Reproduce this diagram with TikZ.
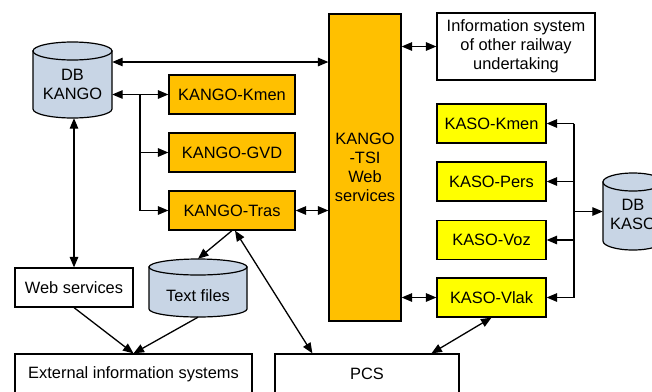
\documentclass[tikz,border=0pt]{standalone}
\usepackage{fontspec}
\setmainfont{Liberation Sans}
\usetikzlibrary{arrows.meta,calc}
\definecolor{kango}{HTML}{FFC000}
\definecolor{kaso}{HTML}{FFFF00}
\definecolor{dbfill}{HTML}{C8D5E5}
\begin{document}
\begin{tikzpicture}[x=1pt,y=-1pt, font=\fontsize{16.4}{19}\selectfont,
  box/.style={draw=black, line width=1.2pt, inner sep=0pt, align=center},
  kangobox/.style={box, fill=kango, minimum width=126pt, minimum height=39pt},
  kasobox/.style={box, fill=kaso, minimum width=109pt, minimum height=39pt},
  cyl/.style={draw=black, line width=1.2pt, fill=dbfill},
  helper/.style={inner sep=0pt},
  tip/.tip={Triangle[length=10.5pt,width=8.5pt]},
  conn/.style={line width=1.3pt, -tip},
  biconn/.style={line width=1.3pt, tip-tip}]
\useasboundingbox (0,0) rectangle (652,391);
\clip (0,0) rectangle (652,391);

% cylinders
\draw[cyl] (33,51) -- (33,109) arc[start angle=180, end angle=0, x radius=39.5, y radius=9] -- (112,51) -- cycle;
\draw[cyl] (72.5,51) ellipse[x radius=39.5, y radius=9];
\node[helper, minimum width=79pt, minimum height=76pt] (dbkango) at (72.5,80) {};
\node[align=center] (dbkangot) at (72.5,84) {DB\\KANGO};

\draw[cyl] (149,267) -- (149,309) arc[start angle=180, end angle=0, x radius=49, y radius=8] -- (247,267) -- cycle;
\draw[cyl] (198,267) ellipse[x radius=49, y radius=8];
\node[helper, minimum width=98pt, minimum height=58pt] (tf) at (198,288) {};
\node (tft) at (198,296) {Text files};

\draw[cyl] (603,182) -- (603,241) arc[start angle=180, end angle=0, x radius=30, y radius=9] -- (663,182) -- cycle;
\draw[cyl] (633,182) ellipse[x radius=30, y radius=9];
\node[helper, minimum width=60pt, minimum height=77pt] (dbkaso) at (633,211.5) {};
\node[align=center] (dbkasot) at (633,214) {DB\\KASO};

% boxes
\node[kangobox] (kmen) at (232,94.5) {KANGO-Kmen};
\node[kangobox] (gvd) at (232,152.5) {KANGO-GVD};
\node[kangobox] (tras) at (232,210.5) {KANGO-Tras};
\node[box, fill=kango, minimum width=72pt, minimum height=307pt] (tsi) at (365,167.5) {KANGO\\-TSI\\Web\\services};
\node[box, fill=white, minimum width=158pt, minimum height=67pt] (info) at (516,46.5) {Information system\\of other railway\\undertaking};
\node[kasobox] (kkmen) at (491.5,123.5) {KASO-Kmen};
\node[kasobox] (pers) at (491.5,181.5) {KASO-Pers};
\node[kasobox] (voz) at (491.5,240) {KASO-Voz};
\node[kasobox] (vlak) at (491.5,297.5) {KASO-Vlak};
\node[box, fill=white, minimum width=118pt, minimum height=39pt] (web) at (74,287.5) {Web services};
\node[box, fill=white, minimum width=237pt, minimum height=40pt] (ext) at (133.5,374) {External information systems};
\node[box, fill=white, minimum width=184pt, minimum height=40pt] (pcs) at (367,374) {PCS};

% helper coordinates
\coordinate (y62) at (0,62);
\coordinate (bk) at (140,94.5);
\coordinate (bus1) at (574,123.5);
\coordinate (bus2) at (574,297.5);

% connectors
\draw[biconn] (dbkango.east |- y62) -- (tsi.west |- y62);
\draw[biconn] (dbkango.east |- kmen.west) -- (kmen.west);
\draw[conn] (bk) |- (gvd.west);
\draw[conn] (bk) |- (tras.west);
\draw[biconn] (dbkango.south -| web.north) -- (web.north);
\draw[conn] (web.south) -- (ext.north);
\draw[conn] (tf.south) -- (ext.north);
\draw[conn] (tras.south) -- (tf.north);
\draw[biconn] ([xshift=3pt]tras.south) -- ($(pcs.north west)+(38,0)$);
\draw[biconn] (tras.east) -- (tsi.west |- tras.east);
\draw[biconn] (tsi.east |- info.west) -- (info.west);
\draw[biconn] (tsi.east |- vlak.west) -- (vlak.west);
\draw[biconn] (vlak.south) -- ($(pcs.north west)+(157,0)$);
\draw[line width=1.3pt] (bus1) -- (bus2);
\draw[conn] (bus1) -- (kkmen.east);
\draw[conn] (pers.east -| bus1) -- (pers.east);
\draw[conn] (voz.east -| bus1) -- (voz.east);
\draw[conn] (bus2) -- (vlak.east);
\draw[conn] (dbkaso.west -| bus1) -- (dbkaso.west);
\end{tikzpicture}
\end{document}
